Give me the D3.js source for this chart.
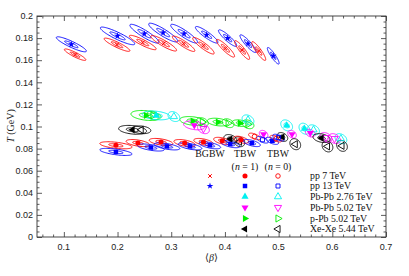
<!DOCTYPE html>
<html><head><meta charset="utf-8">
<script src="https://cdn.jsdelivr.net/npm/d3@7"></script>
<style>body{margin:0;background:#fff}svg{display:block}</style>
</head><body>
<script>
// ---------- data ----------
const xTicks = [0.1,0.2,0.3,0.4,0.5,0.6,0.7];
const yTicks = [0,0.02,0.04,0.06,0.08,0.1,0.12,0.14,0.16,0.18,0.2];
const yTickLabels = ["0","0.02","0.04","0.06","0.08","0.1","0.12","0.14","0.16","0.18","0.2"];
const seriesNames = ["pp 7 TeV","pp 13 TeV","Pb-Pb 2.76 TeV","Pb-Pb 5.02 TeV","p-Pb 5.02 TeV","Xe-Xe 5.44 TeV"];
const columnLabels = ["BGBW","TBW","TBW"];

// pp 7 TeV BGBW
const b_pp7_BG = [0.121,0.199,0.247,0.286,0.323,0.360,0.401,0.432,0.463];
const T_pp7_BG = [0.165,0.174,0.176,0.1753,0.1749,0.1731,0.1708,0.1692,0.1683];
const sb_pp7_BG = [0.020,0.024,0.025,0.024,0.021,0.020,0.017,0.014,0.013];
const sT_pp7_BG = [0.0052,0.006,0.0065,0.007,0.007,0.0075,0.008,0.0085,0.0085];
// pp 13 TeV BGBW
const b_pp13_BG = [0.114,0.200,0.250,0.285,0.324,0.366,0.405,0.443,0.490];
const T_pp13_BG = [0.1744,0.182,0.184,0.185,0.184,0.183,0.180,0.175,0.164];
const sb_pp13_BG = [0.028,0.032,0.027,0.027,0.025,0.021,0.017,0.015,0.011];
const sT_pp13_BG = [0.0068,0.008,0.0085,0.0085,0.0085,0.0075,0.0075,0.008,0.0075];
// pp 7 TeV TBW
const b_pp7_T1 = [0.197,0.238,0.281,0.325,0.360,0.395,0.430];
const T_pp7_T1 = [0.083,0.085,0.086,0.085,0.086,0.087,0.088];
const b_pp7_T0 = [0.455,0.495];
const T_pp7_T0 = [0.091,0.089];
// pp 13 TeV TBW
const b_pp13_T1 = [0.197,0.262,0.292,0.335,0.372,0.410,0.450,0.488];
const T_pp13_T1 = [0.077,0.081,0.082,0.082,0.083,0.084,0.085,0.087];
const b_pp13_T0 = [0.470,0.500];
const T_pp13_T0 = [0.088,0.090];
// Pb-Pb 2.76 TeV TBW
const b_PbPb276_T1 = [0.272,0.515,0.548];
const T_PbPb276_T1 = [0.110,0.101,0.098];
const b_PbPb276_T0 = [0.305,0.443,0.565,0.616];
const T_PbPb276_T0 = [0.109,0.106,0.097,0.089];
// Pb-Pb 5.02 TeV TBW
const b_PbPb502_T1 = [0.343,0.472,0.525,0.559];
const T_PbPb502_T1 = [0.101,0.093,0.093,0.094];
const b_PbPb502_T0 = [0.360,0.588,0.604];
const T_PbPb502_T0 = [0.098,0.090,0.089];
// p-Pb 5.02 TeV TBW
const b_pPb_T1 = [0.253,0.340,0.387,0.428];
const T_pPb_T1 = [0.110,0.105,0.104,0.103];
const b_pPb_T0 = [0.266,0.358,0.406,0.443];
const T_pPb_T0 = [0.110,0.104,0.103,0.102];
// Xe-Xe 5.44 TeV TBW
const b_XeXe_T1 = [0.228,0.410,0.507,0.580];
const T_XeXe_T1 = [0.097,0.0887,0.0905,0.0895];
const b_XeXe_T0 = [0.244,0.427,0.531,0.591,0.618];
const T_XeXe_T0 = [0.097,0.0862,0.084,0.082,0.0825];

// ---------- layout ----------
const W=409,H=276;
const x=d3.scaleLinear().domain([0.05,0.7]).range([37,386]);
const y=d3.scaleLinear().domain([0,0.2]).range([237,16]);
const svg=d3.select("body").append("svg").attr("width",W).attr("height",H);

const colors={pp7:"#ff0000",pp13:"#0000ff",PbPb276:"#00f0f0",PbPb502:"#ff00ff",pPb:"#00ee00",XeXe:"#000000"};

function ellipsePath(b0,T0,sb,sT,rho,s){
  const pts=[];const k=Math.sqrt(1-rho*rho);
  for(let i=0;i<=72;i++){const t=i/72*2*Math.PI;
    pts.push([x(b0+s*sb*Math.cos(t)),y(T0+s*sT*(rho*Math.cos(t)+k*Math.sin(t)))]);}
  return d3.line()(pts)+"Z";
}
const gE=svg.append("g"),gM=svg.append("g");
function ellipses(bs,Ts,sbs,sTs,rho,col,inner){
  bs.forEach((b,i)=>{
    const sb=Array.isArray(sbs)?sbs[i]:sbs, sT=Array.isArray(sTs)?sTs[i]:sTs;
    gE.append("path").attr("d",ellipsePath(b,Ts[i],sb,sT,rho,1)).attr("fill","none").attr("stroke",col).attr("stroke-width",0.9);
    if(inner) gE.append("path").attr("d",ellipsePath(b,Ts[i],sb,sT,rho,0.45)).attr("fill","none").attr("stroke",col).attr("stroke-width",0.9);
  });
}
function marker(g,px,py,type,col,filled){
  let sym,rot=0,size=22;
  switch(type){
    case "x": sym=d3.symbolX;size=10;break;
    case "star": sym=d3.symbolStar;size=14;break;
    case "circle": sym=d3.symbolCircle;size=filled?20:16;break;
    case "square": sym=d3.symbolSquare;size=filled?20:16;break;
    case "up": sym=d3.symbolTriangle;break;
    case "down": sym=d3.symbolTriangle;rot=180;break;
    case "right": sym=d3.symbolTriangle;rot=90;break;
    case "left": sym=d3.symbolTriangle;rot=-90;break;
  }
  const p=g.append("path").attr("d",d3.symbol(sym,size)())
    .attr("transform",`translate(${px},${py}) rotate(${rot})`);
  if(type==="x"){p.attr("fill","none").attr("stroke",col).attr("stroke-width",1);}
  else if(filled){p.attr("fill",col).attr("stroke","none");}
  else {p.attr("fill","none").attr("stroke",col).attr("stroke-width",0.9);}
}
function markers(bs,Ts,type,col,filled){bs.forEach((b,i)=>marker(gM,x(b),y(Ts[i]),type,col,filled));}

// BGBW
ellipses(b_pp13_BG,T_pp13_BG,sb_pp13_BG,sT_pp13_BG,-0.9,colors.pp13,true);
ellipses(b_pp7_BG,T_pp7_BG,sb_pp7_BG,sT_pp7_BG,-0.9,colors.pp7,true);
markers(b_pp13_BG,T_pp13_BG,"star",colors.pp13,true);
markers(b_pp7_BG,T_pp7_BG,"x",colors.pp7,false);
// TBW ellipses
ellipses(b_pPb_T1,T_pPb_T1,[0.028,0.024,0.02,0.015],[0.0045,0.004,0.0035,0.003],-0.3,colors.pPb,true);
ellipses(b_pPb_T0,T_pPb_T0,0.011,0.004,-0.3,colors.pPb,false);
ellipses(b_PbPb276_T1,T_PbPb276_T1,[0.026,0.011,0.01],[0.004,0.005,0.005],-0.3,colors.PbPb276,true);
ellipses(b_PbPb276_T0,T_PbPb276_T0,0.011,0.0045,-0.3,colors.PbPb276,false);
ellipses(b_PbPb502_T1,T_PbPb502_T1,[0.02,0.008,0.008,0.009],[0.004,0.0035,0.0035,0.0035],-0.3,colors.PbPb502,false);
ellipses(b_PbPb502_T0,T_PbPb502_T0,0.011,0.0045,-0.3,colors.PbPb502,false);
ellipses(b_XeXe_T1,T_XeXe_T1,[0.026,0.012,0.01,0.016],0.004,-0.3,colors.XeXe,true);
ellipses(b_XeXe_T0,T_XeXe_T0,[0.018,0.01,0.01,0.01,0.01],[0.0035,0.0045,0.005,0.005,0.005],-0.2,colors.XeXe,false);
ellipses(b_pp7_T1,T_pp7_T1,[0.030,0.022,0.022,0.02,0.018,0.016,0.014],0.0032,-0.5,colors.pp7,true);
ellipses(b_pp13_T1,T_pp13_T1,[0.030,0.025,0.024,0.022,0.02,0.018,0.016,0.012],0.0032,-0.6,colors.pp13,true);
ellipses(b_pp7_T0,T_pp7_T0,0.011,0.003,-0.6,colors.pp7,false);
ellipses(b_pp13_T0,T_pp13_T0,0.011,0.003,-0.6,colors.pp13,false);
// TBW markers
markers(b_pPb_T1,T_pPb_T1,"right",colors.pPb,true);
markers(b_pPb_T0,T_pPb_T0,"right",colors.pPb,false);
markers(b_PbPb276_T1,T_PbPb276_T1,"up",colors.PbPb276,true);
markers(b_PbPb276_T0,T_PbPb276_T0,"up",colors.PbPb276,false);
markers(b_PbPb502_T1,T_PbPb502_T1,"down",colors.PbPb502,true);
markers(b_PbPb502_T0,T_PbPb502_T0,"down",colors.PbPb502,false);
markers(b_XeXe_T1,T_XeXe_T1,"left",colors.XeXe,true);
markers(b_XeXe_T0,T_XeXe_T0,"left",colors.XeXe,false);
markers(b_pp7_T1,T_pp7_T1,"circle",colors.pp7,true);
markers(b_pp13_T1,T_pp13_T1,"square",colors.pp13,true);
markers(b_pp7_T0,T_pp7_T0,"circle",colors.pp7,false);
markers(b_pp13_T0,T_pp13_T0,"square",colors.pp13,false);

// ---------- axes ----------
const axCol="#333";
const ax=svg.append("g");
function tickAxis(axisFn,scale,ticks,len,transform){
  const a=axisFn(scale).tickValues(ticks).tickSizeInner(len).tickSizeOuter(0).tickFormat("");
  const g=ax.append("g").attr("transform",transform).call(a);
  g.select(".domain").remove();
  g.selectAll("line").attr("stroke",axCol).attr("stroke-width",0.8);
  return g;
}
const xMinor=d3.range(0.06,0.7001,0.02).map(v=>+v.toFixed(3)).filter(v=>Math.abs(v*10-Math.round(v*10))>1e-6);
const yMinor=d3.range(0,0.2001,0.005).map(v=>+v.toFixed(4)).filter(v=>Math.abs(v*50-Math.round(v*50))>1e-6);
tickAxis(d3.axisTop,x,xTicks,5,"translate(0,237)");
tickAxis(d3.axisTop,x,xMinor,2.5,"translate(0,237)");
tickAxis(d3.axisBottom,x,xTicks,5,"translate(0,16)");
tickAxis(d3.axisBottom,x,xMinor,2.5,"translate(0,16)");
tickAxis(d3.axisRight,y,yTicks,5,"translate(37,0)");
tickAxis(d3.axisRight,y,yMinor,2.5,"translate(37,0)");
tickAxis(d3.axisLeft,y,yTicks,5,"translate(386,0)");
tickAxis(d3.axisLeft,y,yMinor,2.5,"translate(386,0)");
const xl=ax.append("g").attr("font-family","Liberation Sans, Arial, sans-serif").attr("font-size",9).attr("fill","#222");
xTicks.forEach(v=>xl.append("text").attr("x",x(v)).attr("y",250).attr("text-anchor","middle").text(d3.format(".1f")(v)));
yTicks.forEach((v,i)=>xl.append("text").attr("x",33).attr("y",y(v)+3.2).attr("text-anchor","end").text(yTickLabels[i]));
ax.append("rect").attr("x",37).attr("y",16).attr("width",349).attr("height",221).attr("fill","none").attr("stroke",axCol).attr("stroke-width",0.9);

// axis labels
const serif="'Liberation Serif','DejaVu Serif',serif";
svg.append("text").attr("transform","translate(14,126) rotate(-90)").attr("text-anchor","middle")
  .attr("font-family",serif).attr("font-size",10).attr("fill","#222")
  .html('<tspan font-style="italic">T</tspan> (GeV)');
svg.append("text").attr("x",211.5).attr("y",261).attr("text-anchor","middle")
  .attr("font-family",serif).attr("font-size",10).attr("fill","#222").html('⟨<tspan font-style="italic">β</tspan>⟩');

// ---------- legend ----------
const legX=[210,245,278];
const tg=svg.append("g").attr("font-family",serif).attr("font-size",9.8).attr("fill","#111").attr("text-anchor","middle");
tg.append("text").attr("x",legX[0]).attr("y",157).text(columnLabels[0]);
tg.append("text").attr("x",legX[1]).attr("y",157).text(columnLabels[1]);
tg.append("text").attr("x",legX[2]).attr("y",157).text(columnLabels[2]);
tg.append("text").attr("x",legX[1]).attr("y",170).html('(<tspan font-style="italic">n</tspan> = 1)');
tg.append("text").attr("x",legX[2]).attr("y",170).html('(<tspan font-style="italic">n</tspan> = 0)');
const rowsY=[176,186,196.7,207.5,218.5,229];
const legCols=[colors.pp7,colors.pp13,colors.PbPb276,colors.PbPb502,colors.pPb,colors.XeXe];
const t1=["circle","square","up","down","right","left"];
const gL=svg.append("g");
marker(gL,legX[0],rowsY[0],"x",colors.pp7,false);
marker(gL,legX[0],rowsY[1],"star",colors.pp13,true);
seriesNames.forEach((n,i)=>{
  marker(gL,legX[1],rowsY[i],t1[i],legCols[i],true);
  marker(gL,legX[2],rowsY[i],t1[i],legCols[i],false);
  gL.append("text").attr("x",310).attr("y",rowsY[i]+3).attr("font-family",serif).attr("font-size",9.8).attr("fill","#111").text(n);
});
</script>
</body></html>
